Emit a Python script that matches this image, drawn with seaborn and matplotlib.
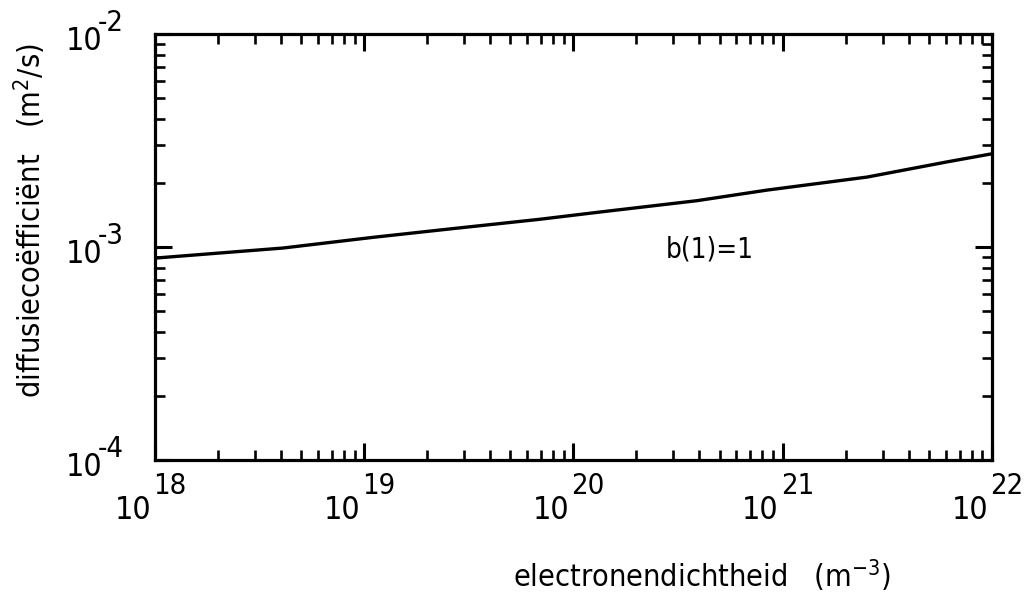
import matplotlib
matplotlib.use("Agg")
import matplotlib.pyplot as plt
import matplotlib.ticker as mticker
import matplotlib.transforms as mtransforms
import seaborn as sns
import pandas as pd

# Data (log-log)
electron_density = [1.0e18, 1.77e18, 4.09e18, 1.10e19, 2.65e19, 6.92e19,
                    1.34e20, 3.89e20, 8.41e20, 2.53e21, 6.10e21, 1.0e22]
diffusion_coef = [8.87e-4, 9.27e-4, 9.89e-4, 1.11e-3, 1.22e-3, 1.35e-3,
                  1.46e-3, 1.65e-3, 1.85e-3, 2.13e-3, 2.51e-3, 2.74e-3]
x_ticks = [1e18, 1e19, 1e20, 1e21, 1e22]
x_tick_base = ["10", "10", "10", "10", "10"]
x_tick_exp = ["18", "19", "20", "21", "22"]
y_ticks = [1e-4, 1e-3, 1e-2]
y_tick_base = ["10", "10", "10"]
y_tick_exp = ["-4", "-3", "-2"]
annotation = "b(1)=1"

sns.set_style("ticks")
plt.rcParams['font.family'] = ['DejaVu Sans']
plt.rcParams['font.stretch'] = 'condensed'
plt.rcParams['mathtext.fontset'] = 'custom'
plt.rcParams['mathtext.rm'] = 'DejaVu Sans:stretch=condensed'
plt.rcParams['mathtext.it'] = 'DejaVu Sans:stretch=condensed'
plt.rcParams['mathtext.bf'] = 'DejaVu Sans:stretch=condensed'
plt.rcParams['text.color'] = 'black'
plt.rcParams['axes.labelcolor'] = 'black'
plt.rcParams['xtick.color'] = 'black'
plt.rcParams['ytick.color'] = 'black'

df = pd.DataFrame({"n": electron_density, "D": diffusion_coef})

fig = plt.figure(figsize=(10.25, 6.01), dpi=100)
ax = fig.add_axes([0.1512, 0.2346, 0.8166, 0.7088])

sns.lineplot(data=df, x="n", y="D", ax=ax, color="black", linewidth=2.4)

ax.set_xscale("log")
ax.set_yscale("log")
ax.set_xlim(1e18, 1e22)
ax.set_ylim(1e-4, 1e-2)

ax.xaxis.set_minor_locator(mticker.LogLocator(base=10, subs=range(2, 10), numticks=50))
ax.yaxis.set_minor_locator(mticker.LogLocator(base=10, subs=range(2, 10), numticks=50))
ax.xaxis.set_minor_formatter(mticker.NullFormatter())
ax.yaxis.set_minor_formatter(mticker.NullFormatter())

ax.tick_params(which="both", direction="in", top=True, right=True, color="black",
               labelcolor="black")
ax.tick_params(which="major", length=12, width=2.2)
ax.tick_params(which="minor", length=7, width=1.9)
ax.tick_params(axis="x", which="major", labelsize=23, pad=25)
ax.tick_params(axis="y", which="major", labelsize=23, pad=38)

ax.set_xticks(x_ticks)
ax.set_xticklabels(x_tick_base, ha="right")
ax.set_yticks(y_ticks)
ax.set_yticklabels(y_tick_base, va="center")

# shift x base labels slightly left of tick, y base labels slightly below tick
for lbl in ax.get_xticklabels():
    lbl.set_transform(lbl.get_transform() +
                      mtransforms.ScaledTranslation(-0.04, 0, fig.dpi_scale_trans))
for lbl in ax.get_yticklabels():
    lbl.set_transform(lbl.get_transform() +
                      mtransforms.ScaledTranslation(0, -0.07, fig.dpi_scale_trans))

# exponents
for t, e in zip(x_ticks, x_tick_exp):
    ax.annotate(e, xy=(t, 0), xycoords=("data", "axes fraction"),
                xytext=(-1.5, -24.5), textcoords="offset points",
                ha="left", va="baseline", fontsize=21, annotation_clip=False)
for t, e in zip(y_ticks, y_tick_exp):
    ax.annotate(e, xy=(0, t), xycoords=("axes fraction", "data"),
                xytext=(-41, 2), textcoords="offset points",
                ha="left", va="baseline", fontsize=21, annotation_clip=False)

for s in ax.spines.values():
    s.set_visible(True)
    s.set_linewidth(2.3)
    s.set_color("black")

ax.set_xlabel(r"electronendichtheid   (m$^{-3}$)", fontsize=22, va="top")
ax.xaxis.set_label_coords(0.654, -0.228)
ax.set_ylabel(r"diffusiecoëfficiënt   (m$^{2}$/s)", fontsize=22)
ax.yaxis.set_label_coords(-0.128, 0.563)

ax.text(2.75e20, 9.7e-4, annotation, fontsize=20, ha="left", va="center", color="black")

ax.grid(False)
fig.savefig("out.png", dpi=100)
